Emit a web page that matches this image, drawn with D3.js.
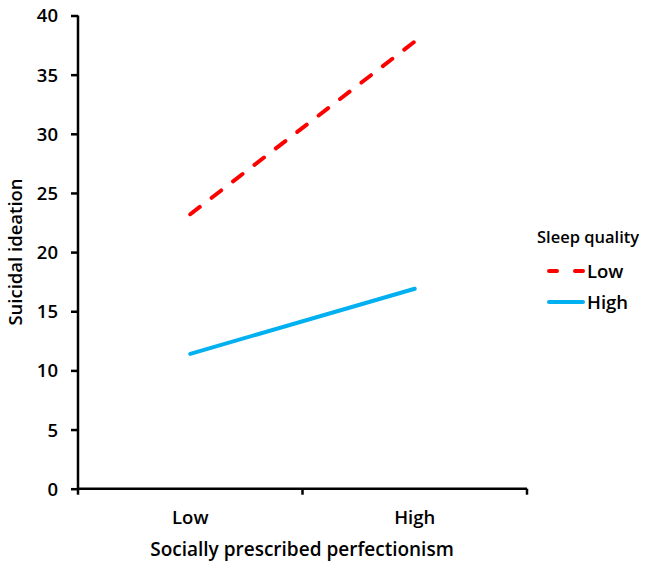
<!DOCTYPE html>
<html><head><meta charset="utf-8">
<script src="https://cdn.jsdelivr.net/npm/d3@7"></script>
<style>body{margin:0;background:#fff}svg{display:block}text{font-family:"Open Sans","Noto Sans",sans-serif;fill:#000}</style>
</head><body>
<script>
const categories = ["Low", "High"];
const seriesNames = ["Low", "High"];
const lowSleep = [23.2, 37.8];
const highSleep = [11.4, 16.9];
const yTicks = [0, 5, 10, 15, 20, 25, 30, 35, 40];
const legendTitle = "Sleep quality";
const xTitle = "Socially prescribed perfectionism";
const yTitle = "Suicidal ideation";

const W = 648, H = 564;
const svg = d3.select("body").append("svg").attr("width", W).attr("height", H);
const x0 = 78, x1 = 527, yTop = 15.5, yBot = 488.7;
const x = d3.scaleBand().domain(categories).range([x0, x1]);
const y = d3.scaleLinear().domain([0, 40]).range([yBot, yTop]);

const series = [
  {name: seriesNames[0], values: lowSleep, color: "#FF0000", dash: "12,15"},
  {name: seriesNames[1], values: highSleep, color: "#00B0F0", dash: null}
];
const line = d3.line().x((d, i) => x(categories[i]) + x.bandwidth() / 2).y(d => y(d));
series.forEach(s => {
  svg.append("path").attr("d", line(s.values)).attr("fill", "none")
    .attr("stroke", s.color).attr("stroke-width", 4).attr("stroke-linecap", "round")
    .attr("stroke-dasharray", s.dash);
});

const fs = "18.5px";
// y axis
const yAxis = svg.append("g").attr("transform", `translate(${x0},0)`)
  .call(d3.axisLeft(y).tickValues(yTicks).tickSize(7).tickPadding(13));
yAxis.select(".domain").attr("stroke", "#000").attr("stroke-width", 2.5).attr("d", `M0,${yTop}V${yBot}`);
yAxis.selectAll(".tick line").attr("stroke", "#000").attr("stroke-width", 2.5);
yAxis.selectAll(".tick text").style("font-size", fs).style("font-weight", 600).attr("dy", "0.35em");

// x axis
const xa = svg.append("g").attr("transform", `translate(0,${yBot})`);
xa.append("line").attr("x1", x0).attr("x2", x1).attr("stroke", "#000").attr("stroke-width", 2.5);
const tickPos = [x0].concat(categories.map(c => x(c) + x.bandwidth()));
xa.selectAll(".xt").data(tickPos).join("line").attr("x1", d => d).attr("x2", d => d)
  .attr("y1", 0).attr("y2", 6).attr("stroke", "#000").attr("stroke-width", 2.5);
xa.selectAll(".xl").data(categories).join("text")
  .attr("x", d => x(d) + x.bandwidth() / 2).attr("y", 35).attr("text-anchor", "middle")
  .style("font-size", fs).style("font-weight", 600).text(d => d);

svg.append("text").attr("x", 302).attr("y", 556).attr("text-anchor", "middle")
  .style("font-size", "19px").style("font-weight", 600).text(xTitle);
svg.append("text").attr("transform", `translate(22,252) rotate(-90)`)
  .attr("text-anchor", "middle").style("font-size", "18.5px").style("font-weight", 600).text(yTitle);

// legend
const lg = svg.append("g");
lg.append("text").attr("x", 537).attr("y", 243).style("font-size", "16.5px").style("font-weight", 600).text(legendTitle);
series.forEach((s, i) => {
  const ly = 271 + i * 31;
  lg.append("line").attr("x1", 549).attr("x2", 583).attr("y1", ly).attr("y2", ly)
    .attr("stroke", s.color).attr("stroke-width", 4).attr("stroke-linecap", "round")
    .attr("stroke-dasharray", s.dash ? "8,18" : null);
  lg.append("text").attr("x", 587).attr("y", ly + 7).style("font-size", fs).style("font-weight", 600).text(s.name);
});
</script>
</body></html>
